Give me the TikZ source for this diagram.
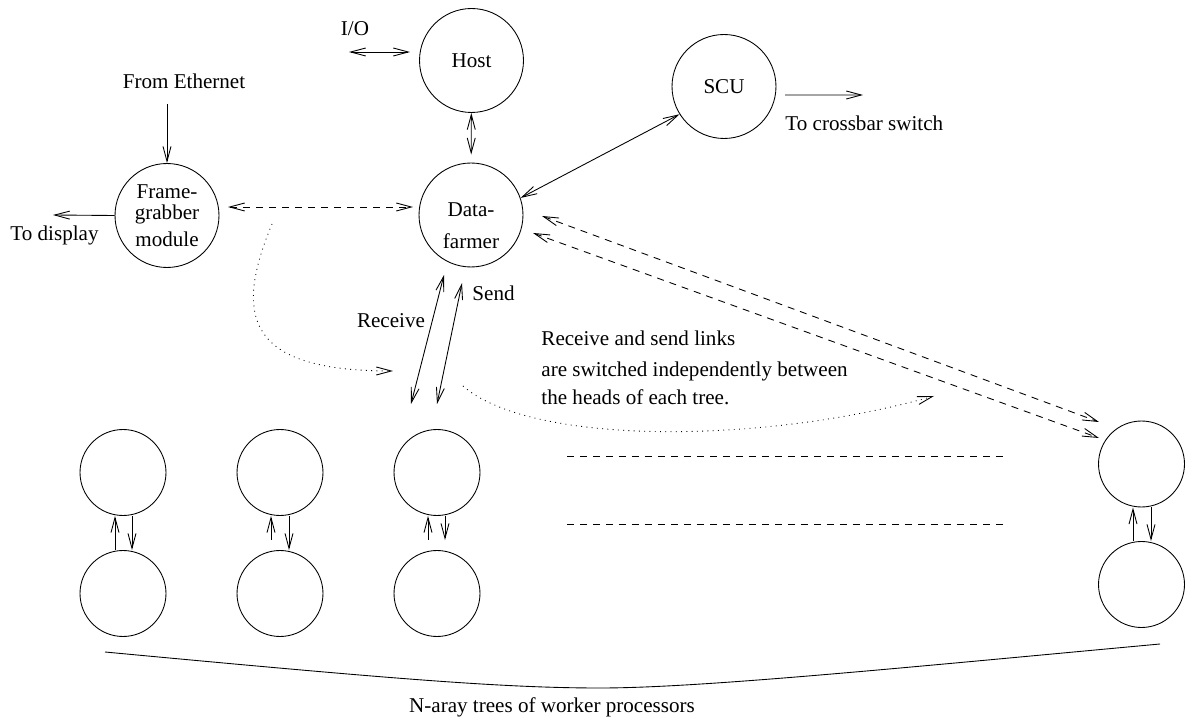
\documentclass[tikz,border=0pt]{standalone}
\usepackage{fontspec}
\setmainfont{Liberation Serif}
\usetikzlibrary{arrows.meta}

\begin{document}
\begin{tikzpicture}[x=0.02cm, y=-0.02cm, line width=0.5pt,
        >={Straight Barb[length=3mm,width=1.6mm]},
        every node/.style={font=\fontsize{12}{14}\selectfont, inner sep=0pt}]
                \tikzstyle{proc} = [draw, circle, minimum size=2.08cm, align=center]
                \tikzstyle{worker} = [draw, circle, minimum size=1.72cm]
                \tikzstyle{link} = [dash pattern=on 0.14cm off 0.12cm]
                \tikzstyle{hint} = [dash pattern=on 0.5pt off 2.5pt]
                \useasboundingbox (0,0) rectangle (1187,719);
                % main processors
                \node[proc] (host) at (471.5,60.5) {Host};
                \node[proc, label={[align=center, yshift=-6pt]center:Data-\\[4pt]farmer}] (df) at (471,215) {};
                \node[proc] (scu) at (724,86.5) {SCU};
                \node[proc] (fg) at (167,215.5) {Frame-\\[-2pt]grabber\\[1pt]module};
                % worker trees
                \node[worker] (t1) at (123,472.5) {};
                \node[worker] (b1) at (123,593.5) {};
                \node[worker] (t2) at (280,472.5) {};
                \node[worker] (b2) at (280,593.5) {};
                \node[worker] (t3) at (437,472.5) {};
                \node[worker] (b3) at (437,593.5) {};
                \node[worker] (tn) at (1141.5,464) {};
                \node[worker] (bn) at (1141.5,584.5) {};
                % texts
                \node (io) at (355,29) {I/O};
                \node (eth) at (184,81) {From Ethernet};
                \node (disp) at (54.5,235) {To display};
                \node[anchor=west] (xbar) at (785,123) {To crossbar switch};
                \node (recv) at (391,321) {Receive};
                \node[anchor=west] (send) at (472,293) {Send};
                \node[anchor=west] (note1) at (541,338) {Receive and send links};
                \node[anchor=west] (note2) at (541,371) {are switched independently between};
                \node[anchor=west] (note3) at (541,397) {the heads of each tree.};
                \node (trees) at (552,707) {N-aray trees of worker processors};
                % free ends
                \coordinate (ioa) at (349,52);
                \coordinate (iob) at (410,52);
                \coordinate (ethin) at (167,104);
                \coordinate (dispend) at (53,215);
                \coordinate (xbarend) at (863,95);
                \coordinate (recvend) at (411,404);
                \coordinate (sendend) at (437,404);
                % links
                \draw[<->] (ioa) -- (iob);
                \draw[<->, shorten >=0.16cm] (host) -- (df);
                \draw[<->] (scu.212) -- (df.19);
                \draw[->] (ethin) -- (fg.north);
                \draw[->] (fg.west) -- (dispend);
                \draw[->] ([shift={(61,8.5)}]scu.center) -- (xbarend);
                \draw[link, <->] ([shift={(61,-8.5)}]fg.center) -- ([shift={(-58,-8)}]df.center);
                \draw[link, <->] ([shift={(71,1)}]df.center) -- ([shift={(-42.5,-42)}]tn.center);
                \draw[link, <->] ([shift={(62,18)}]df.center) -- ([shift={(-42.5,-26)}]tn.center);
                \draw[<->] ([shift={(-27,60)}]df.center) -- (recvend);
                \draw[<->] ([shift={(-9,68)}]df.center) -- (sendend);
                \draw[->] ([shift={(-8,0)}]b1.north) -- ([shift={(-8,0)}]t1.south);
                \draw[->] ([shift={(9,0)}]t1.south) -- ([shift={(9,0)}]b1.north);
                \draw[->] ([shift={(-9,-10)}]b2.north) -- ([shift={(-9,0)}]t2.south);
                \draw[->] ([shift={(9,0)}]t2.south) -- ([shift={(9,0)}]b2.north);
                \draw[->] ([shift={(-9,-10)}]b3.north) -- ([shift={(-9,0)}]t3.south);
                \draw[->] ([shift={(8,0)}]t3.south) -- ([shift={(8,-10)}]b3.north);
                \draw[->] ([shift={(-8.5,0)}]bn.north) -- ([shift={(-8.5,0)}]tn.south);
                \draw[->] ([shift={(9.5,0)}]tn.south) -- ([shift={(9.5,0)}]bn.north);
                % more trees
                \draw[link] (567,456) -- (1003,456);
                \draw[link] (567,524) -- (1003,524);
                % switching hints
                \coordinate (h1a) at (272,224);
                \coordinate (h1b) at (393,371);
                \draw[hint, ->] (h1a) .. controls (232,320) and (250,371) .. (h1b);
                \coordinate (h2a) at (463,386);
                \coordinate (h2b) at (934,396);
                \draw[hint, ->] (h2a) .. controls (530,445) and (760,445) .. (h2b);
                % brace
                \draw (105,652) .. controls (383,678) and (500,688) .. (600,688) .. controls (700,688) and (900,668) .. (1160,644);
            \end{tikzpicture}
\end{document}
